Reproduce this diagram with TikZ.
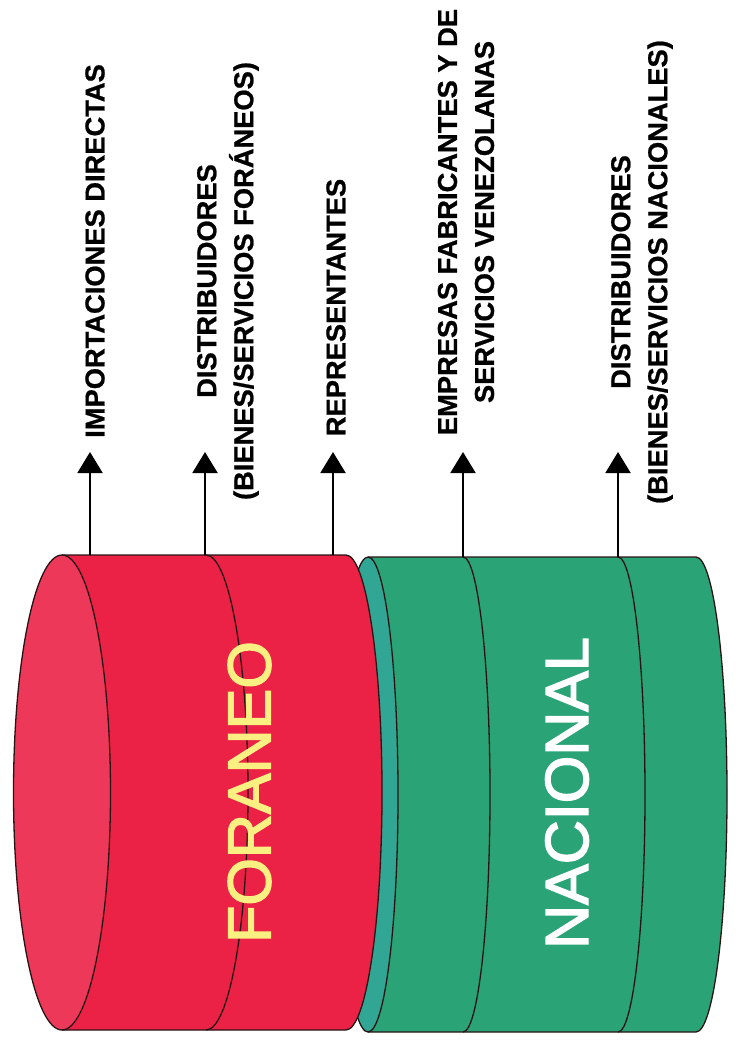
\documentclass[tikz,border=0pt]{standalone}
\usepackage{fontspec}
\setmainfont{Liberation Sans}
\newfontfamily\medsans[FakeBold=2.4]{Liberation Sans}
\newfontfamily\lblfont[BoldFeatures={FakeBold=0.8}]{Liberation Sans}
\usetikzlibrary{arrows.meta}
\definecolor{redbody}{RGB}{235,34,70}
\definecolor{redface}{RGB}{238,56,90}
\definecolor{greenbody}{RGB}{42,163,118}
\definecolor{greenface}{RGB}{50,166,148}
\definecolor{edge}{RGB}{40,20,20}
\definecolor{yellowtxt}{RGB}{250,240,130}
\tikzset{
  outline/.style={draw=edge, line width=1.3pt},
  lbl/.style={rotate=90, inner sep=0pt, align=center, font=\lblfont\bfseries\fontsize{27.3}{37}\selectfont},
  bigtxt/.style={rotate=90, inner sep=0pt, font=\medsans\fontsize{61}{70}\selectfont},
  arr/.style={line width=2pt, -{Triangle[length=21pt,width=25pt]}}
}
\begin{document}
\begin{tikzpicture}[x=1pt,y=-1pt]
\useasboundingbox (0,0) rectangle (737,1040);
\fill[white] (0,0) rectangle (737,1040);

% ---------- green cylinder (behind) ----------
\fill[greenbody] (368,557) -- (696,557)
  arc[start angle=90,end angle=-90,x radius=31pt,y radius=237.5pt]
  -- (368,1032) -- cycle;
\filldraw[fill=greenface, outline] (368,794.5) ellipse [x radius=30pt, y radius=237.5pt];
\draw[outline] (463,557) arc[start angle=90,end angle=-90,x radius=27pt,y radius=237.5pt];
\draw[outline] (618,557) arc[start angle=90,end angle=-90,x radius=27pt,y radius=237.5pt];
\draw[outline] (368,557) -- (696,557)
  arc[start angle=90,end angle=-90,x radius=31pt,y radius=237.5pt]
  -- (368,1032);

% ---------- red cylinder (front) ----------
\fill[redbody] (62,555) -- (346,555)
  arc[start angle=90,end angle=-90,x radius=36pt,y radius=237.5pt]
  -- (62,1030) -- cycle;
\filldraw[fill=redface, outline] (62,792.5) ellipse [x radius=48.5pt, y radius=237.5pt];
\draw[outline] (206,555) arc[start angle=90,end angle=-90,x radius=42pt,y radius=237.5pt];
\draw[outline] (62,555) -- (346,555)
  arc[start angle=90,end angle=-90,x radius=36pt,y radius=237.5pt]
  -- (62,1030);

% ---------- big labels ----------
\node[bigtxt, text=yellowtxt] (foraneo) at (249.5,792) {FORANEO};
\node[bigtxt, text=white] (nacional) at (567,793) {NACIONAL};

% ---------- arrows ----------
\coordinate (s1) at (90,555);  \coordinate (t1) at (90,452);
\coordinate (s2) at (205,555); \coordinate (t2) at (205,452);
\coordinate (s3) at (333,555); \coordinate (t3) at (333,452);
\coordinate (s4) at (463,557); \coordinate (t4) at (463,452);
\coordinate (s5) at (618,557); \coordinate (t5) at (618,452);
\draw[arr] (s1) -- (t1);
\draw[arr] (s2) -- (t2);
\draw[arr] (s3) -- (t3);
\draw[arr] (s4) -- (t4);
\draw[arr] (s5) -- (t5);

% ---------- rotated labels ----------
\node[lbl] (l1) at (95,251) {IMPORTACIONES DIRECTAS};
\node[lbl] (l2) at (228,281) {DISTRIBUIDORES\\(BIENES/SERVICIOS FORÁNEOS)};
\node[lbl] (l3) at (336,307.5) {REPRESENTANTES};
\node[lbl] (l4) at (466,222) {EMPRESAS FABRICANTES Y DE\\SERVICIOS VENEZOLANAS};
\node[lbl] (l5) at (642,272) {DISTRIBUIDORES\\(BIENES/SERVICIOS NACIONALES)};
\end{tikzpicture}
\end{document}
